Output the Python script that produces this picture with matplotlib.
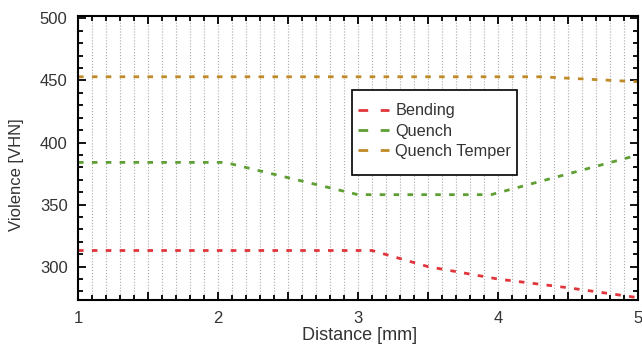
import numpy as np
import matplotlib
matplotlib.use("Agg")
import matplotlib.pyplot as plt
from matplotlib.ticker import MultipleLocator, FuncFormatter
from matplotlib.lines import Line2D
from matplotlib.patches import Rectangle

plt.rcParams['font.family'] = ['Liberation Sans', 'DejaVu Sans']

# data
bend_x = [1.0, 3.1, 3.5, 4.0, 4.5, 5.0]
bend_y = [313, 313, 300, 290, 283, 275]
quench_x = [1.0, 2.05, 3.0, 3.95, 5.0]
quench_y = [384, 384, 358, 358, 390]
temper_x = [1.0, 4.3, 5.0]
temper_y = [453, 453, 449]
labels = ["Bending", "Quench", "Quench Temper"]
colors = ["#e0353a", "#5e9e32", "#c08a28"]

fig = plt.figure(figsize=(6.42, 3.47), dpi=100)
ax = fig.add_axes([0.1215, 0.135, 0.8725, 0.819])

for xs, ys, lab, c in zip([bend_x, quench_x, temper_x],
                          [bend_y, quench_y, temper_y], labels, colors):
    ax.plot(xs, ys, color=c, lw=2, dashes=(2, 3), label=lab)

ax.set_xlim(1, 5)
ax.set_ylim(273, 502)

# ticks inward on all sides
ax.xaxis.set_major_locator(MultipleLocator(0.5))
ax.xaxis.set_minor_locator(MultipleLocator(0.1))
ax.xaxis.set_major_formatter(FuncFormatter(lambda v, p: "%d" % v if abs(v - round(v)) < 1e-6 else ""))
ax.yaxis.set_major_locator(MultipleLocator(50))
ax.yaxis.set_minor_locator(MultipleLocator(10))
ax.tick_params(which='both', direction='in', top=True, right=True,
               labelsize=12, labelcolor='#333333', width=1.3)
ax.tick_params(which='major', length=6)
ax.tick_params(which='minor', length=3.5)
ax.tick_params(axis='x', which='major', pad=8)
ax.tick_params(axis='y', which='major', pad=7.5)

# vertical dotted grid
ax.grid(True, axis='x', which='both', linestyle=':', color='#aaaaaa', lw=0.8)

for s in ax.spines.values():
    s.set_linewidth(1.5)

ax.set_xlabel("Distance [mm]", fontsize=13, color='#333333')
ax.set_ylabel("Violence [VHN]", fontsize=12, color='#333333')
ax.xaxis.set_label_coords(0.502, -0.095)
ax.yaxis.set_label_coords(-0.096, 0.44)

# legend: box drawn separately, it is taller than the entries
box = Rectangle((0.489, 0.44), 0.295, 0.299, transform=ax.transAxes,
                facecolor='white', edgecolor='black', lw=1.2, zorder=4)
ax.add_patch(box)
handles = [Line2D([], [], color=c, lw=2, dashes=(3.5, 4.5)) for c in colors]
leg = ax.legend(handles, labels, loc='upper left', bbox_to_anchor=(0.5, 0.692),
                fontsize=11.7, frameon=False, handlelength=1.9, borderpad=0,
                borderaxespad=0, labelspacing=0.32, handletextpad=0.4)
leg.set_zorder(5)
for t in leg.get_texts():
    t.set_color('#333333')

fig.savefig("out.png", dpi=100)
